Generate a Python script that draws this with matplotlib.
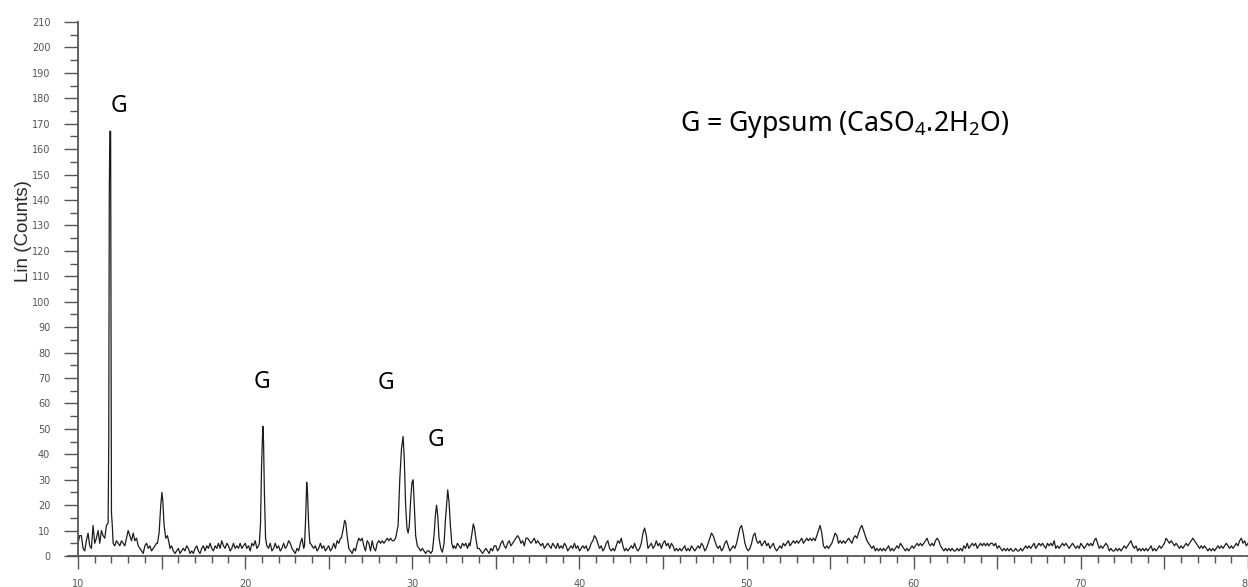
import numpy as np
import matplotlib
matplotlib.use("Agg")
import matplotlib.pyplot as plt
from matplotlib.ticker import FixedLocator, MultipleLocator, FuncFormatter

# ---------------- data ----------------
bg_start = 10.0
bg_step = 0.1
bg_counts = [
    5, 8, 8, 3, 2, 6, 9, 4, 3, 12,      # 10
    5, 7, 10, 5, 10, 8, 7, 12, 13, 13,  # 11
    5, 5, 4, 6, 5, 4, 6, 5, 4, 7,       # 12
    10, 8, 6, 9, 6, 7, 4, 3, 2, 1,      # 13
    4, 5, 3, 4, 2, 3, 4, 5, 5, 5,       # 14
    5, 5, 5, 5, 5, 3, 4, 2, 1, 2,       # 15
    3, 1, 2, 3, 2, 4, 3, 1, 2, 1,       # 16
    3, 4, 2, 1, 3, 4, 2, 4, 3, 5,       # 17
    3, 2, 4, 3, 5, 3, 6, 4, 3, 5,       # 18
    4, 2, 3, 5, 3, 4, 3, 5, 3, 4,       # 19
    5, 3, 4, 2, 5, 4, 6, 3, 4, 4,       # 20
    5, 5, 5, 5, 3, 5, 2, 3, 5, 3,       # 21
    4, 2, 3, 5, 3, 4, 6, 5, 3, 2,       # 22
    1, 3, 2, 5, 7, 3, 3, 3, 3, 5,       # 23
    4, 3, 4, 2, 3, 5, 3, 4, 2, 3,       # 24
    4, 2, 3, 5, 3, 6, 5, 7, 7, 7,       # 25
    7, 7, 7, 2, 1, 3, 2, 5, 7, 6,       # 26
    7, 4, 2, 6, 5, 2, 6, 3, 2, 5,       # 27
    6, 5, 6, 5, 6, 7, 6, 7, 6, 6,       # 28
    6, 6, 6, 6, 6, 6, 6, 6, 6, 6,       # 29
    6, 6, 6, 6, 6, 2, 3, 2, 1, 2,       # 30
    2, 1, 2, 2, 2, 2, 2, 2, 2, 2,       # 31
    2, 2, 2, 2, 2, 4, 3, 5, 4, 3,       # 32
    5, 4, 5, 3, 5, 5, 5, 5, 5, 5,       # 33
    3, 2, 1, 2, 3, 2, 1, 3, 2, 4,       # 34
    4, 2, 3, 5, 6, 4, 3, 5, 6, 4,       # 35
    5, 6, 7, 8, 7, 5, 6, 4, 7, 7,       # 36
    6, 5, 6, 7, 5, 6, 5, 4, 5, 3,       # 37
    4, 5, 4, 3, 5, 4, 3, 5, 3, 4,       # 38
    3, 5, 4, 2, 3, 4, 3, 5, 3, 4,       # 39
    2, 3, 4, 3, 4, 2, 3, 5, 6, 8,       # 40
    7, 5, 3, 4, 2, 3, 5, 6, 3, 2,       # 41
    3, 2, 4, 6, 5, 7, 4, 2, 3, 2,       # 42
    3, 4, 3, 5, 3, 2, 3, 5, 9, 11,      # 43
    8, 3, 4, 5, 3, 4, 6, 4, 5, 3,       # 44
    5, 6, 4, 5, 3, 5, 4, 2, 3, 2,       # 45
    3, 2, 3, 4, 2, 3, 2, 4, 3, 2,       # 46
    3, 4, 3, 5, 4, 2, 3, 5, 7, 9,       # 47
    8, 6, 4, 3, 4, 2, 3, 5, 6, 4,       # 48
    2, 3, 4, 3, 5, 8, 11, 12, 9, 5,     # 49
    3, 2, 3, 5, 8, 9, 6, 5, 6, 4,       # 50
    5, 6, 4, 5, 3, 4, 5, 3, 2, 3,       # 51
    4, 3, 5, 4, 5, 6, 4, 5, 6, 5,       # 52
    6, 5, 6, 7, 5, 6, 7, 6, 7, 6,       # 53
    7, 6, 8, 10, 12, 9, 4, 3, 4, 3,     # 54
    4, 5, 7, 9, 8, 5, 6, 5, 6, 5,       # 55
    6, 7, 6, 5, 7, 8, 7, 9, 11, 12,     # 56
    10, 8, 6, 5, 4, 3, 4, 2, 3, 2,      # 57
    3, 2, 3, 2, 3, 4, 2, 3, 2, 3,       # 58
    4, 3, 5, 4, 3, 2, 3, 2, 3, 4,       # 59
    3, 4, 5, 4, 5, 4, 5, 6, 7, 5,       # 60
    4, 5, 4, 6, 7, 6, 4, 3, 2, 3,       # 61
    2, 3, 2, 3, 2, 2, 3, 2, 3, 2,       # 62
    4, 3, 5, 3, 4, 5, 4, 5, 3, 4,       # 63
    5, 4, 5, 4, 5, 4, 5, 5, 4, 5,       # 64
    3, 4, 3, 2, 3, 2, 3, 2, 3, 2,       # 65
    2, 3, 2, 2, 3, 2, 3, 4, 3, 4,       # 66
    3, 4, 5, 3, 4, 5, 4, 5, 4, 3,       # 67
    5, 4, 5, 4, 6, 3, 4, 3, 4, 5,       # 68
    4, 5, 4, 3, 4, 5, 4, 3, 4, 3,       # 69
    5, 4, 3, 4, 5, 4, 5, 4, 6, 7,       # 70
    5, 3, 4, 3, 4, 5, 4, 2, 3, 2,       # 71
    2, 3, 2, 3, 2, 3, 4, 3, 4, 5,       # 72
    6, 4, 3, 4, 2, 3, 2, 3, 2, 3,       # 73
    2, 3, 4, 2, 3, 2, 3, 4, 3, 4,       # 74
    5, 7, 6, 5, 6, 5, 4, 5, 4, 3,       # 75
    4, 3, 4, 5, 4, 5, 6, 7, 6, 5,       # 76
    4, 3, 4, 3, 4, 3, 2, 3, 2, 3,       # 77
    2, 3, 4, 3, 4, 3, 4, 5, 4, 3,       # 78
    4, 3, 4, 5, 4, 6, 7, 5, 6, 4,       # 79
    5,                                  # 80
]

peak_angles = [
    [11.80, 11.84, 11.87, 11.90, 11.95, 11.97, 12.00, 12.05, 12.10],
    [14.75, 14.85, 14.95, 15.02, 15.08, 15.15, 15.25, 15.35, 15.45],
    [20.85, 20.92, 20.98, 21.03, 21.06, 21.10, 21.15, 21.22, 21.30],
    [23.55, 23.62, 23.68, 23.73, 23.80, 23.87],
    [25.75, 25.85, 25.95, 26.02, 26.10, 26.20],
    [29.00, 29.15, 29.25, 29.35, 29.45, 29.52, 29.60, 29.68, 29.75,
     29.82, 29.90, 29.98, 30.05, 30.12, 30.20, 30.30, 30.40],
    [31.20, 31.30, 31.38, 31.45, 31.52, 31.60, 31.70, 31.80, 31.90,
     31.98, 32.05, 32.12, 32.20, 32.28, 32.36, 32.45],
    [33.45, 33.55, 33.65, 33.72, 33.80, 33.90],
]
peak_counts = [
    [13, 46, 141, 167, 167, 105, 17, 12, 5],
    [5, 9, 20, 25, 21, 12, 7, 8, 5],
    [5, 13, 35, 46, 51, 45, 25, 7, 4],
    [4, 15, 29, 25, 12, 5],
    [7, 10, 14, 13, 8, 3],
    [7, 12, 30, 42, 47, 38, 20, 11, 9, 12, 22, 29, 30, 20, 8, 4, 3],
    [2, 8, 16, 20, 16, 7, 3, 1.5, 5, 14, 20, 26, 21, 12, 5, 3],
    [4, 8, 12.6, 11, 7, 3],
]

labels_G = ["G", "G", "G", "G"]
labels_G_pos = [(12.42, 177.0), (21.0, 68.5), (28.45, 68.0), (31.44, 45.6)]
legend_text = r"G = Gypsum (CaSO$_4$.2H$_2$O)"
legend_pos = (46.0, 167.0)
y_label = "Lin (Counts)"

# ---------------- assemble trace ----------------
bg_x = np.round(bg_start + bg_step * np.arange(len(bg_counts)), 2)
bg_y = np.array(bg_counts, dtype=float)
keep = np.ones(len(bg_x), dtype=bool)
for pa in peak_angles:
    keep &= ~((bg_x >= pa[0] - 1e-6) & (bg_x <= pa[-1] + 1e-6))
xs = list(bg_x[keep])
ys = list(bg_y[keep])
for pa, pc in zip(peak_angles, peak_counts):
    xs += pa
    ys += pc
order = np.argsort(xs)
xs = np.array(xs)[order]
ys = np.array(ys)[order]

# ---------------- plot ----------------
plt.rcParams['mathtext.fontset'] = 'custom'
plt.rcParams['mathtext.rm'] = 'Noto Sans'
plt.rcParams['mathtext.it'] = 'Noto Sans'

W, H = 1248, 587
fig = plt.figure(figsize=(W / 100, H / 100), dpi=100)
left_px, right_px, top_px, bot_px = 68, 1248, 22, 556
ax = fig.add_axes([left_px / W, 1 - bot_px / H, (right_px - left_px) / W, (bot_px - top_px) / H])

ax.plot(xs, ys, color='#1c1c1c', lw=0.9)

ax.set_xlim(9.4, 80)
ax.set_ylim(0, 210)
for s in ['top', 'right']:
    ax.spines[s].set_visible(False)
ax.spines['left'].set_position(('data', 10))
for s in ['left', 'bottom']:
    ax.spines[s].set_color('#555555')
    ax.spines[s].set_linewidth(1.3)

ax.yaxis.set_major_locator(MultipleLocator(10))
ax.yaxis.set_minor_locator(MultipleLocator(5))
ax.xaxis.set_major_locator(FixedLocator(list(range(10, 81, 5))))
ax.xaxis.set_minor_locator(FixedLocator(list(range(10, 81, 1))))
ax.xaxis.set_major_formatter(FuncFormatter(lambda v, p: f"{int(v)}" if int(round(v)) % 10 == 0 else ""))
ax.yaxis.set_major_formatter(FuncFormatter(lambda v, p: f"{int(round(v))}"))

ax.tick_params(axis='y', which='major', direction='out', length=10, width=1, color='#555555',
               pad=10, labelsize=7, labelcolor='#555555')
ax.tick_params(axis='y', which='minor', direction='out', length=6, width=1, color='#555555')
ax.tick_params(axis='x', which='major', direction='out', length=9, width=1, color='#555555',
               pad=7.5, labelsize=7, labelcolor='#555555')
ax.tick_params(axis='x', which='minor', direction='out', length=5, width=1, color='#555555')

fig.text(24 / W, 1 - 231 / H, y_label, rotation=90, ha='center', va='center',
         fontsize=13.5, family='Liberation Sans', color='#2a2a2a')

for lab, (gx, gy) in zip(labels_G, labels_G_pos):
    ax.text(gx, gy, lab, ha='center', va='center', fontsize=16.5, family='Noto Sans', color='black')

ax.text(legend_pos[0], legend_pos[1], legend_text, ha='left', va='baseline', fontsize=19.2,
        family='Noto Sans', color='black')

fig.savefig('out.png', dpi=100)
